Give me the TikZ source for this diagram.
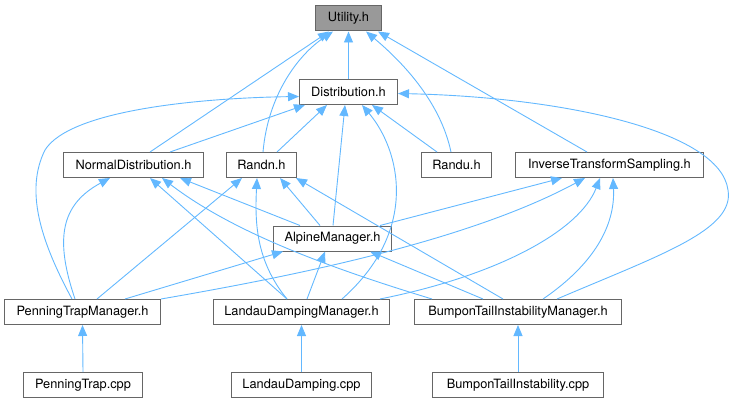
\documentclass[tikz,border=0pt]{standalone}
\usepackage{fontspec}
\setmainfont{TeX Gyre Heros}
\usetikzlibrary{arrows.meta}
\definecolor{edgec}{HTML}{63B8FF}
\definecolor{borderc}{HTML}{666666}
\definecolor{rootfill}{HTML}{999999}
\begin{document}
\begin{tikzpicture}[x=1pt,y=-1pt,
  box/.style={draw=borderc,line width=1pt,fill=white,anchor=north west,inner sep=0pt,
    minimum height=25pt,font=\fontsize{12.8}{15}\selectfont},
  root/.style={box,fill=rootfill},
  dep/.style={draw=edgec,line width=0.9pt,-{Triangle[length=11pt,width=9pt]}}]
\useasboundingbox (0,0) rectangle (735,403);
% nodes
\node[root,minimum width=66pt]  (util)  at (315,5.5) {Utility.h};
\node[box,minimum width=98pt]   (dist)  at (299,79) {Distribution.h};
\node[box,minimum width=140pt]  (nd)    at (63,152) {NormalDistribution.h};
\node[box,minimum width=70pt]   (randn) at (226,152) {Randn.h};
\node[box,minimum width=70pt]   (randu) at (421,152) {Randu.h};
\node[box,minimum width=188pt]  (its)   at (515,152) {InverseTransformSampling.h};
\node[box,minimum width=118pt]  (alp)   at (273,225.5) {AlpineManager.h};
\node[box,minimum width=156pt]  (ptm)   at (4,299) {PenningTrapManager.h};
\node[box,minimum width=176pt]  (ldm)   at (213,299) {LandauDampingManager.h};
\node[box,minimum width=207pt]  (btim)  at (414,299) {BumponTailInstabilityManager.h};
\node[box,minimum width=119pt]  (ptcpp) at (23,372) {PenningTrap.cpp};
\node[box,minimum width=140pt]  (ldcpp) at (231,372) {LandauDamping.cpp};
\node[box,minimum width=171pt]  (btcpp) at (432,372) {BumponTailInstability.cpp};
% edges into Utility.h
\draw[dep] (dist.north) -- (util.south);
\draw[dep] ([xshift=87pt]nd.north west) -- ([xshift=14pt]util.south west);
\draw[dep] ([xshift=37pt]randn.north west) .. controls (268,95) and (298,55) .. ([xshift=18pt]util.south west);
\draw[dep] ([xshift=30pt]randu.north west) .. controls (440,100) and (400,60) .. ([xshift=51pt]util.south west);
\draw[dep] ([xshift=72pt]its.north west) -- ([xshift=63pt]util.south west);
% edges into Distribution.h
\draw[dep] ([xshift=107pt]nd.north west) -- ([xshift=6pt]dist.south west);
\draw[dep] ([xshift=51pt]randn.north west) -- ([xshift=28pt]dist.south west);
\draw[dep] ([xshift=16pt]randu.north west) -- ([xshift=73pt]dist.south west);
\draw[dep] ([xshift=60pt]alp.north west) -- ([xshift=46pt]dist.south west);
\draw[dep] ([xshift=129pt]ldm.north west) .. controls (420,230) and (400,150) .. ([xshift=63pt]dist.south west);
\draw[dep] ([xshift=68pt]ptm.north west) .. controls (40,240) and (25,190) .. (45,150)
  .. controls (70,110) and (200,98) .. ([yshift=-4.5pt]dist.west);
\draw[dep] ([xshift=143pt]btim.north west) .. controls (660,255) and (735,230) .. (728,190)
  .. controls (720,130) and (560,97) .. ([yshift=-1.5pt]dist.east);
% edges into NormalDistribution.h
\draw[dep] ([xshift=71pt]ptm.north west) .. controls (55,240) and (60,205) .. ([xshift=47pt]nd.south west);
\draw[dep] ([xshift=74pt]ldm.north west) -- ([xshift=87pt]nd.south west);
\draw[dep] ([xshift=18pt]btim.north west) .. controls (320,265) and (230,230) .. ([xshift=99pt]nd.south west);
\draw[dep] ([xshift=27pt]alp.north west) -- ([xshift=117pt]nd.south west);
% edges into Randn.h
\draw[dep] ([xshift=93pt]ptm.north west) -- ([xshift=16pt]randn.south west);
\draw[dep] ([xshift=74pt]ldm.north west) .. controls (255,260) and (255,220) .. ([xshift=31pt]randn.south west);
\draw[dep] ([xshift=47pt]alp.north west) -- ([xshift=54pt]randn.south west);
\draw[dep] ([xshift=89pt]btim.north west) -- ([xshift=70pt]randn.south west);
% edges into InverseTransformSampling.h
\draw[dep] ([xshift=107pt]alp.north west) -- ([xshift=47pt]its.south west);
\draw[dep] (ptm.north east) .. controls (300,275) and (470,240) .. ([xshift=70pt]its.south west);
\draw[dep] ([xshift=167pt]ldm.north west) .. controls (500,275) and (580,230) .. ([xshift=85pt]its.south west);
\draw[dep] ([xshift=129pt]btim.north west) .. controls (600,260) and (615,220) .. ([xshift=98pt]its.south west);
% edges into AlpineManager.h
\draw[dep] ([xshift=121pt]ptm.north west) -- ([xshift=10pt]alp.south west);
\draw[dep] ([xshift=94pt]ldm.north west) -- ([xshift=52pt]alp.south west);
\draw[dep] ([xshift=69pt]btim.north west) -- ([xshift=97pt]alp.south west);
% cpp files
\draw[dep] (ptcpp.north) -- (ptm.south);
\draw[dep] (ldcpp.north) -- (ldm.south);
\draw[dep] (btcpp.north) -- (btim.south);
\end{tikzpicture}
\end{document}
